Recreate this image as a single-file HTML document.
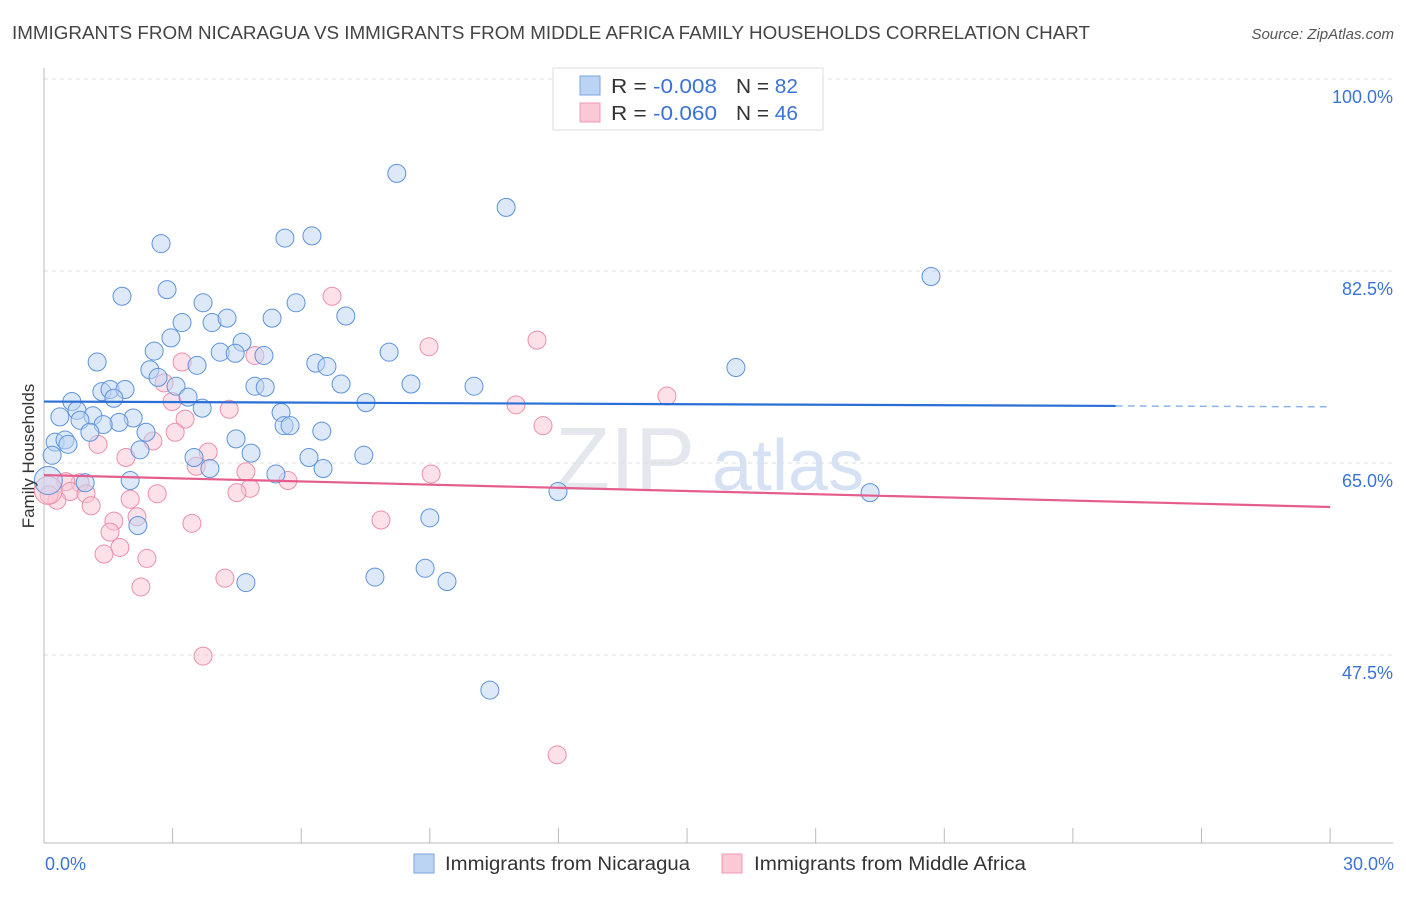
<!DOCTYPE html>
<html><head><meta charset="utf-8"><style>
body{margin:0;background:#fff;font-family:"Liberation Sans",sans-serif;}
svg text{font-family:"Liberation Sans",sans-serif;}
</style></head><body>
<svg id="chart" width="1406" height="892" xmlns="http://www.w3.org/2000/svg">
<text x="12" y="39" font-size="18" fill="#444" textLength="1078" lengthAdjust="spacingAndGlyphs">IMMIGRANTS FROM NICARAGUA VS IMMIGRANTS FROM MIDDLE AFRICA FAMILY HOUSEHOLDS CORRELATION CHART</text>
<text x="1394" y="39" font-size="15" fill="#555" text-anchor="end" font-style="italic">Source: ZipAtlas.com</text>
<text x="555" y="490" font-size="90" fill="#e4e8ee" font-family="Liberation Serif">ZIP</text>
<text x="712" y="490" font-size="72" fill="#d6e2f3">atlas</text>
<g id="grid"></g><g id="axes"></g><g id="pts"></g><g id="lines"></g>
<text transform="translate(34,456) rotate(-90)" font-size="17" fill="#333" text-anchor="middle">Family Households</text>
<text x="45" y="870" font-size="18" fill="#3b73d6">0.0%</text>
<text x="1394" y="870" font-size="18" fill="#3b73d6" text-anchor="end">30.0%</text>
<g>
<rect x="553" y="68" width="270" height="62" fill="#fff" stroke="#ddd"/>
<rect x="580" y="76" width="20" height="19" fill="#bcd4f4" stroke="#7aa6e0"/>
<rect x="580" y="103" width="20" height="19" fill="#fcc8d6" stroke="#ee9ab2"/>
<text x="611" y="93" font-size="20" fill="#333" textLength="106" lengthAdjust="spacingAndGlyphs">R = <tspan fill="#3b73d6">-0.008</tspan></text>
<text x="736" y="93" font-size="20" fill="#333" textLength="62" lengthAdjust="spacingAndGlyphs">N = <tspan fill="#3b73d6">82</tspan></text>
<text x="611" y="120" font-size="20" fill="#333" textLength="106" lengthAdjust="spacingAndGlyphs">R = <tspan fill="#3b73d6">-0.060</tspan></text>
<text x="736" y="120" font-size="20" fill="#333" textLength="62" lengthAdjust="spacingAndGlyphs">N = <tspan fill="#3b73d6">46</tspan></text>
</g>
<g>
<rect x="414" y="854" width="20" height="19" fill="#bcd4f4" stroke="#7aa6e0"/>
<text x="445" y="870" font-size="19" fill="#333" textLength="245" lengthAdjust="spacingAndGlyphs">Immigrants from Nicaragua</text>
<rect x="722" y="854" width="20" height="19" fill="#fcc8d6" stroke="#ee9ab2"/>
<text x="754" y="870" font-size="19" fill="#333" textLength="272" lengthAdjust="spacingAndGlyphs">Immigrants from Middle Africa</text>
</g>
</svg>
<script>
const blueX=[8.23,10.78,2.73,5.62,6.25,20.69,1.82,2.87,3.71,5.88,3.22,3.92,4.27,5.32,7.04,2.96,4.62,2.57,4.11,4.46,5.13,8.05,3.57,6.34,6.60,1.24,16.14,2.47,2.66,3.08,4.92,5.16,6.93,8.56,10.03,1.35,1.54,1.89,1.63,0.65,3.36,3.69,7.51,0.77,0.37,1.14,2.08,0.84,5.53,1.75,1.38,1.07,2.38,5.60,5.74,6.48,4.48,0.26,0.49,0.56,2.24,4.83,7.46,3.50,6.18,0.19,3.87,6.51,5.41,2.01,0.96,11.99,19.27,2.19,9.00,7.72,8.89,9.40,4.71,10.40,0.1];
const blueY=[91.4,88.3,85.0,85.5,85.7,82.0,80.2,80.8,79.6,79.6,77.8,77.8,78.2,78.2,78.4,76.4,76.0,75.2,75.1,75.0,74.8,75.1,73.9,74.1,73.8,74.2,73.7,73.5,72.8,72.0,72.0,71.9,72.2,72.2,72.0,71.5,71.7,71.7,70.9,70.6,71.0,70.0,70.5,69.8,69.2,69.3,69.1,68.9,69.6,68.7,68.5,67.8,67.8,68.4,68.4,67.9,67.2,66.9,67.1,66.7,66.2,65.9,65.7,65.5,65.5,65.7,64.5,64.5,64.0,63.4,63.2,62.4,62.3,59.3,60.0,54.6,55.4,54.2,54.1,44.3,63.4];
const pinkX=[6.72,11.50,8.98,3.22,4.92,2.80,2.99,14.53,11.01,4.32,3.29,11.64,3.06,2.54,3.83,1.26,3.55,1.91,4.71,9.03,5.69,0.84,0.51,4.81,0.61,4.50,2.64,2.01,0.98,1.10,0.30,0.12,7.86,3.45,2.17,1.63,1.54,1.77,1.40,2.40,4.22,2.26,3.71,11.97,0.1];
const pinkY=[80.2,76.2,75.6,74.2,74.8,72.3,70.6,71.1,70.3,69.9,69.0,68.4,67.8,67.0,66.0,66.7,64.7,65.5,64.2,64.0,63.4,63.2,63.3,62.7,62.4,62.3,62.2,61.7,62.2,61.1,61.6,62.1,59.8,59.5,60.1,59.7,58.7,57.3,56.7,56.3,54.5,53.7,47.4,38.4,62.5];
const trendIntercepts=[70.6,63.9];
const trendSlopes=[-0.016,-0.097];
const yTicks=[100,82.5,65,47.5];
const yTickLabels=["100.0%","82.5%","65.0%","47.5%"];
const xTicks=[0,3,6,9,12,15,18,21,24,27,30];
const NS="http://www.w3.org/2000/svg";
const sx=v=>44+v*42.87;
const sy=v=>79+(100-v)*10.971;
function mk(tag,attrs,parent){const e=document.createElementNS(NS,tag);for(const k in attrs)e.setAttribute(k,attrs[k]);parent.appendChild(e);return e;}
const grid=document.getElementById('grid'),axes=document.getElementById('axes'),pts=document.getElementById('pts'),lines=document.getElementById('lines');
yTicks.forEach((t,i)=>{
 const l=mk('line',{x1:44,x2:1393,y1:sy(t),y2:sy(t),stroke:'#ddd','stroke-dasharray':'4,4'},grid);
 
 
 const tx=mk('text',{x:1393,y:sy(t)+24,'font-size':18,fill:'#3b73d6','text-anchor':'end'},grid);
 tx.textContent=yTickLabels[i];
 
 
});
const ya=mk('line',{x1:44,x2:44,y1:68,y2:843,stroke:'#bbb'},axes);


const xa=mk('line',{x1:44,x2:1393,y1:843,y2:843,stroke:'#bbb'},axes);


xTicks.forEach(t=>{
 const l=mk('line',{x1:sx(t),x2:sx(t),y1:828,y2:843,stroke:'#bbb'},axes);
 
 
});
function dots(X,Y,fill,stroke,name){
 X.forEach((x,i)=>{
  const big=(i===X.length-1);
  const c=mk('circle',{cx:sx(x),cy:sy(Y[i]),r:big?14:9,fill:fill,'fill-opacity':0.5,stroke:stroke,'stroke-width':1},pts);
  
  
 });
}
dots(pinkX,pinkY,'#fbc3d2','#ec8fab','point-middle-africa');
dots(blueX,blueY,'#bcd4f4','#5d93dc','point-nicaragua');
const bl=mk('line',{x1:sx(0),y1:sy(trendIntercepts[0]),x2:sx(25),y2:sy(trendIntercepts[0]+trendSlopes[0]*25),stroke:'#2a6fd6','stroke-width':2.2},lines);


const bd=mk('line',{x1:sx(25),y1:sy(trendIntercepts[0]+trendSlopes[0]*25),x2:sx(30),y2:sy(trendIntercepts[0]+trendSlopes[0]*30),stroke:'#8fb4ea','stroke-width':1.5,'stroke-dasharray':'7,5'},lines);


const pl=mk('line',{x1:sx(0),y1:sy(trendIntercepts[1]),x2:sx(30),y2:sy(trendIntercepts[1]+trendSlopes[1]*30),stroke:'#e55d8c','stroke-width':2.2},lines);


</script>
</body></html>
